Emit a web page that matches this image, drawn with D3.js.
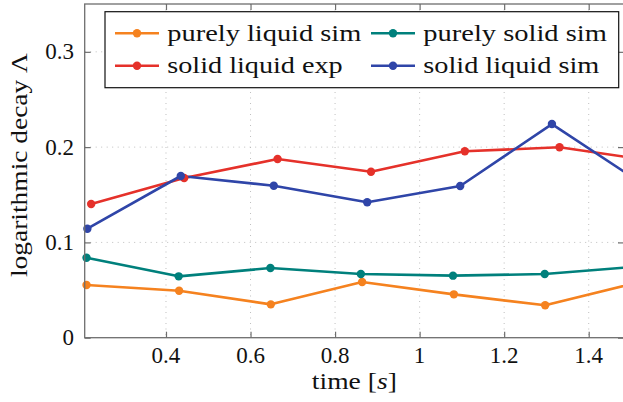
<!DOCTYPE html>
<html>
<head>
<meta charset="utf-8">
<script src="https://cdn.jsdelivr.net/npm/d3@7"></script>
<style>
  html, body { margin: 0; padding: 0; background: #fff; }
  svg { display: block; }
</style>
</head>
<body>
<svg id="chart" width="623" height="402"></svg>
<script>
// Measured logarithmic decay over time for four cases
const timeLiquidSim = [0.212, 0.431, 0.648, 0.864, 1.081, 1.297, 1.513];
const valLiquidSim  = [0.0553, 0.0493, 0.0350, 0.0584, 0.0455, 0.0340, 0.0575];

const timeSolidSim = [0.212, 0.430, 0.647, 0.861, 1.079, 1.296, 1.512];
const valSolidSim  = [0.0839, 0.0644, 0.0731, 0.0668, 0.0651, 0.0668, 0.0745];

const timeSolidLiquidExp = [0.223, 0.443, 0.664, 0.885, 1.107, 1.331, 1.552];
const valSolidLiquidExp  = [0.1403, 0.1676, 0.1875, 0.1742, 0.1956, 0.1998, 0.1856];

const timeSolidLiquidSim = [0.214, 0.435, 0.655, 0.876, 1.096, 1.313, 1.530];
const valSolidLiquidSim  = [0.1144, 0.1697, 0.1595, 0.1421, 0.1592, 0.2242, 0.1607];

const xTicks = [0.4, 0.6, 0.8, 1, 1.2, 1.4];
const xTickLabels = ["0.4", "0.6", "0.8", "1", "1.2", "1.4"];
const yTicks = [0, 0.1, 0.2, 0.3];
const yTickLabels = ["0", "0.1", "0.2", "0.3"];

const seriesNames = ["purely liquid sim", "purely solid sim", "solid liquid exp", "solid liquid sim"];
const seriesColors = ["#f5821f", "#00807c", "#e5312a", "#2f45a8"];

const series = [
  { name: seriesNames[0], color: seriesColors[0], t: timeLiquidSim, v: valLiquidSim },
  { name: seriesNames[1], color: seriesColors[1], t: timeSolidSim, v: valSolidSim },
  { name: seriesNames[2], color: seriesColors[2], t: timeSolidLiquidExp, v: valSolidLiquidExp },
  { name: seriesNames[3], color: seriesColors[3], t: timeSolidLiquidSim, v: valSolidLiquidSim }
];

const FONT = "'Liberation Serif'";
const FS = 23;
const svg = d3.select("#chart");
const pLeft = 84.7, pRight = 624, pTop = 4, pBottom = 337.7;
const W = pRight - pLeft, H = pBottom - pTop;

const x = d3.scaleLinear().domain([0.2077, 1.4835]).range([pLeft, pRight]);
const y = d3.scaleLinear().domain([0, 0.3502]).range([pBottom, pTop]);

const axisColor = "#6e6e6e";
const tickLen = 6;

// dotted major grid
const grid = svg.append("g");
grid.selectAll("line.gx").data(xTicks).join("line")
  .attr("x1", d => x(d)).attr("x2", d => x(d))
  .attr("y1", pTop).attr("y2", pBottom)
  .attr("stroke", "#b8b8b8").attr("stroke-width", 0.9)
  .attr("stroke-dasharray", "1,4.5");
grid.selectAll("line.gy").data(yTicks.filter(d => d > 0)).join("line")
  .attr("x1", pLeft).attr("x2", pRight)
  .attr("y1", d => y(d)).attr("y2", d => y(d))
  .attr("stroke", "#b8b8b8").attr("stroke-width", 0.9)
  .attr("stroke-dasharray", "1,4.5");

// axes with inward ticks on all four sides
function styleAxis(g) {
  g.select(".domain").remove();
  g.selectAll(".tick line").attr("stroke", axisColor).attr("stroke-width", 1.2);
  g.selectAll(".tick text").remove();
}
svg.append("g").attr("transform", `translate(0,${pBottom})`)
  .call(d3.axisBottom(x).tickValues(xTicks).tickSize(-tickLen)).call(styleAxis);
svg.append("g").attr("transform", `translate(0,${pTop})`)
  .call(d3.axisTop(x).tickValues(xTicks).tickSize(-tickLen)).call(styleAxis);
svg.append("g").attr("transform", `translate(${pLeft},0)`)
  .call(d3.axisLeft(y).tickValues(yTicks).tickSize(-tickLen)).call(styleAxis);
svg.append("g").attr("transform", `translate(${pRight},0)`)
  .call(d3.axisRight(y).tickValues(yTicks).tickSize(-tickLen)).call(styleAxis);

// tick labels
svg.append("g").selectAll("text").data(xTicks).join("text")
  .attr("x", d => x(d)).attr("y", 363)
  .attr("text-anchor", "middle").attr("font-size", FS)
  .attr("font-family", FONT).attr("fill", "#111")
  .text((d, i) => xTickLabels[i]);
svg.append("g").selectAll("text").data(yTicks).join("text")
  .attr("x", 74).attr("y", d => y(d) + 7.6)
  .attr("text-anchor", "end").attr("font-size", FS)
  .attr("font-family", FONT).attr("fill", "#111")
  .text((d, i) => yTickLabels[i]);

// axis titles
const xt = svg.append("text").attr("x", (pLeft + pRight) / 2).attr("y", 389)
  .attr("text-anchor", "middle").attr("font-size", FS)
  .attr("font-family", FONT).attr("fill", "#111")
  .attr("textLength", 85).attr("lengthAdjust", "spacingAndGlyphs");
xt.append("tspan").text("time [");
xt.append("tspan").attr("font-style", "italic").text("s");
xt.append("tspan").text("]");

svg.append("text")
  .attr("transform", "translate(27.3,165) rotate(-90)")
  .attr("text-anchor", "middle").attr("font-size", FS)
  .attr("font-family", FONT).attr("fill", "#111")
  .attr("textLength", 224).attr("lengthAdjust", "spacingAndGlyphs")
  .text("logarithmic decay \u039B");

// data
svg.append("clipPath").attr("id", "plotclip")
  .append("rect").attr("x", pLeft).attr("y", pTop).attr("width", W).attr("height", H);

const line = d3.line().x(d => x(d[0])).y(d => y(d[1]));
const plot = svg.append("g").attr("clip-path", "url(#plotclip)");
const marks = svg.append("g");
series.forEach(s => {
  const pts = s.t.map((t, i) => [t, s.v[i]]);
  plot.append("path").datum(pts)
    .attr("d", line).attr("fill", "none")
    .attr("stroke", s.color).attr("stroke-width", 2.6)
    .attr("stroke-linejoin", "round");
  marks.selectAll(null).data(pts.filter(p => x(p[0]) <= pRight)).join("circle")
    .attr("cx", d => x(d[0])).attr("cy", d => y(d[1])).attr("r", 4.2)
    .attr("fill", s.color);
});

// frame
svg.append("rect").attr("x", pLeft).attr("y", pTop).attr("width", W).attr("height", H)
  .attr("fill", "none").attr("stroke", axisColor).attr("stroke-width", 1.3);

// legend
const lg = svg.append("g");
lg.append("rect").attr("x", 105).attr("y", 11.7).attr("width", 618.7 - 105).attr("height", 87.7 - 11.7)
  .attr("fill", "#fff").attr("stroke", "#111").attr("stroke-width", 1.2);
const colX = [115, 371];
const rowY = [33.3, 65.7];
const textW = [194, 183.6, 175.4, 176];
series.forEach((s, k) => {
  const cx = colX[k % 2], cy = rowY[Math.floor(k / 2)];
  lg.append("line").attr("x1", cx).attr("x2", cx + 44).attr("y1", cy).attr("y2", cy)
    .attr("stroke", s.color).attr("stroke-width", 2.6);
  lg.append("circle").attr("cx", cx + 22).attr("cy", cy).attr("r", 4.2).attr("fill", s.color);
  lg.append("text").attr("x", cx + 52.3).attr("y", cy + 7.4)
    .attr("font-size", FS)
    .attr("font-family", FONT).attr("fill", "#111")
    .attr("textLength", textW[k]).attr("lengthAdjust", "spacingAndGlyphs")
    .text(s.name);
});
</script>
</body>
</html>
